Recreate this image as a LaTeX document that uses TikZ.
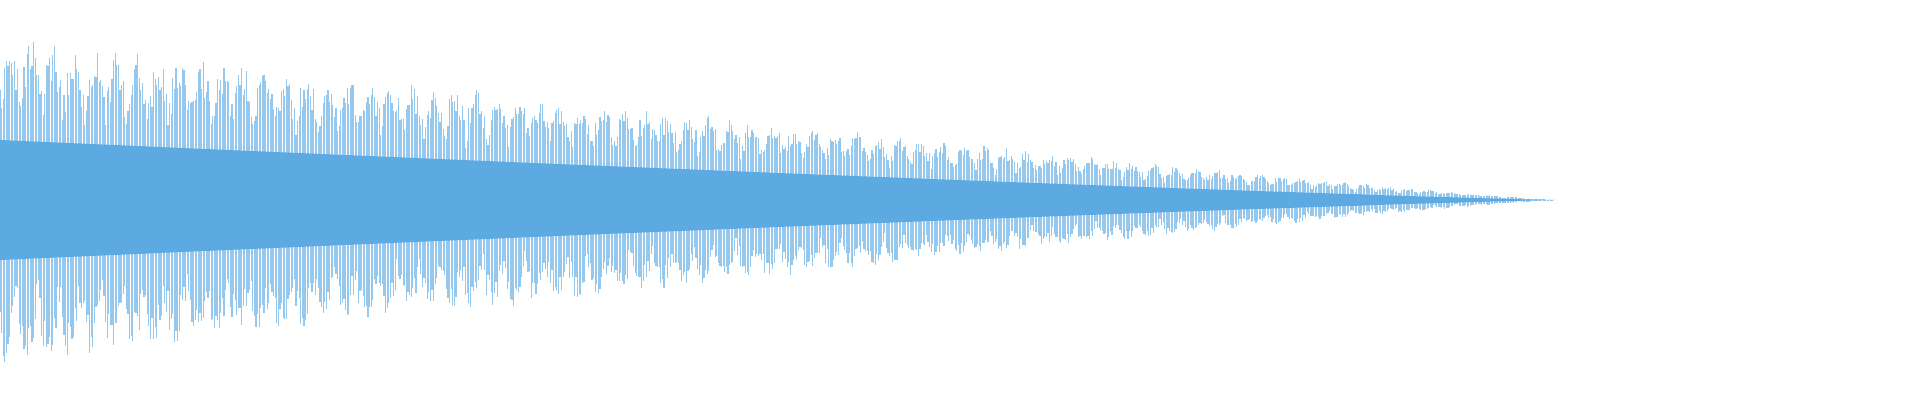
\documentclass[tikz,border=0pt]{standalone}
\definecolor{wave}{HTML}{5DA9E1}
\begin{document}
\begin{tikzpicture}[x=0.01cm,y=0.01cm]
\useasboundingbox (0,0) rectangle (1920,400);
\pgfmathsetseed{7}
\foreach \i in {0,...,970}{
  \pgfmathsetmacro{\xx}{\i*1.6}
  \pgfmathsetmacro{\env}{165*(1-\xx/1555)^1.1}
  \pgfmathsetmacro{\a}{\env*(0.45+0.3*abs(sin(\xx*8.5))+0.25*rnd)}
  \pgfmathsetmacro{\b}{\env*(0.45+0.3*abs(sin(\xx*8.5+40))+0.25*rnd)}
  \draw[wave!65, line width=0.3pt] (\xx,200+\a) -- (\xx,200-\b);
}
\fill[wave] plot[domain=0:1555,samples=80] (\x,{200+60*(1-\x/1555)^1.15})
  -- plot[domain=1555:0,samples=80] (\x,{200-60*(1-\x/1555)^1.15}) -- cycle;
\end{tikzpicture}
\end{document}
